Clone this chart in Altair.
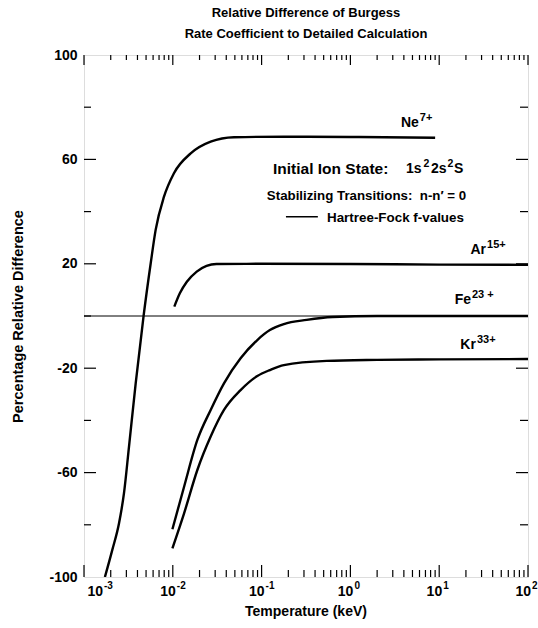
import altair as alt
import pandas as pd

# ---------------- data ----------------
ne_T = [1.72e-3, 2.08e-3, 2.48e-3, 2.82e-3, 3.21e-3, 3.82e-3, 4.7e-3, 5.64e-3, 6.41e-3,
        7.96e-3, 1.03e-2, 1.59e-2, 2.67e-2, 4.89e-2, 1.78e-1, 1.0, 9.0]
ne_v = [-100, -89.7, -79.4, -67.9, -50.1, -25.8, 0.3, 20.2, 33.0,
        45.7, 54.7, 62.3, 66.8, 68.5, 68.7, 68.6, 68.3]

ar_T = [1.04e-2, 1.2e-2, 1.44e-2, 1.86e-2, 2.4e-2, 3.1e-2, 1e-1, 1.0, 10.0, 100.0]
ar_v = [3.6, 8.7, 13.1, 17.0, 19.2, 19.9, 20.0, 19.9, 19.7, 19.6]

fe_T = [9.9e-3, 1.34e-2, 1.89e-2, 2.67e-2, 3.77e-2, 5.8e-2, 8.95e-2, 1.24e-1, 1.78e-1,
        3.22e-1, 6.3e-1, 2.0, 10.0, 100.0]
fe_v = [-81.7, -65.4, -47.5, -36.0, -25.8, -16.2, -9.2, -5.4, -3.1,
        -1.5, -0.4, 0.0, 0.0, 0.0]

kr_T = [9.9e-3, 1.34e-2, 1.89e-2, 2.67e-2, 3.77e-2, 5.8e-2, 8.95e-2, 1.24e-1, 1.78e-1,
        5.4e-1, 2.0, 10.0, 100.0]
kr_v = [-89.0, -75.6, -59.0, -46.2, -36.0, -28.4, -23.0, -20.7, -18.8,
        -17.2, -16.8, -16.6, -16.5]

ion_names = ["Ne", "Ar", "Fe", "Kr"]
ion_charges = ["7+", "15+", "23 +", "33+"]
label_T = [5.9, 33.7, 22.8, 25.9]
label_v = [73.9, 25.3, 6.1, -11.1]

x_exponents = [-3, -2, -1, 0, 1, 2]
x_major = [10.0 ** e for e in x_exponents]
x_minor = [m * 10.0 ** e for e in range(-3, 2) for m in range(2, 10)]
y_labels = [100, 60, 20, -20, -60, -100]
y_major = [60, 20, -20, -60]
y_minor = [80, 40, 0, -40, -80]

NB = "\u00a0"
title_lines = ["Relative Difference of Burgess", "Rate Coefficient to Detailed Calculation"]
state_parts = ["Initial" + NB + "Ion" + NB + "State:", "1s", "2", "2s", "2", "S"]
transition_text = "Stabilizing Transitions:" + NB + NB + "n-n\u2032 = 0"
legend_text = "Hartree-Fock f-values"

# ---------------- build ----------------
W, H = 444, 522
FONT = "Liberation Sans"
xs = alt.Scale(type="log", domain=[1e-3, 1e2])
ys = alt.Scale(domain=[-100, 100])

curves = pd.concat([
    pd.DataFrame({"T": ne_T, "v": ne_v, "ion": "Ne"}),
    pd.DataFrame({"T": ar_T, "v": ar_v, "ion": "Ar"}),
    pd.DataFrame({"T": fe_T, "v": fe_v, "ion": "Fe"}),
    pd.DataFrame({"T": kr_T, "v": kr_v, "ion": "Kr"}),
])

lines = alt.Chart(curves).mark_line(color="black", strokeWidth=2.4, interpolate="monotone", clip=True).encode(
    x=alt.X("T:Q", scale=xs, axis=None),
    y=alt.Y("v:Q", scale=ys, axis=alt.Axis(
        values=y_labels, ticks=False, domain=False, grid=False,
        labelExpr="toString(datum.value)", labelFont=FONT, labelFontSize=14,
        labelFontWeight="bold", labelColor="black", labelPadding=7,
        title="Percentage Relative Difference", titleFont=FONT, titleFontSize=14.5,
        titleFontWeight="bold", titleColor="black", titleAngle=270,
        titleX=-66, titleY=H / 2, titleAlign="center", titleBaseline="middle")),
    detail="ion:N",
)

zero = alt.Chart(pd.DataFrame({"v": [0]})).mark_rule(color="black", strokeWidth=1).encode(
    y=alt.Y("v:Q", scale=ys), x=alt.value(0), x2=alt.value(W))

def xticks(vals, y0, y1):
    return alt.Chart(pd.DataFrame({"t": vals})).mark_rule(color="black", strokeWidth=1.2).encode(
        x=alt.X("t:Q", scale=xs), y=alt.value(y0), y2=alt.value(y1))

def yticks(vals, x0, x1):
    return alt.Chart(pd.DataFrame({"t": vals})).mark_rule(color="black", strokeWidth=1.2).encode(
        y=alt.Y("t:Q", scale=ys), x=alt.value(x0), x2=alt.value(x1))

ticks = [
    xticks(x_major, H, H - 12), xticks(x_minor, H, H - 7),
    xticks(x_major, 0, 10), xticks(x_minor, 0, 5),
    yticks(y_major, 0, 12), yticks(y_minor, 0, 7),
    yticks(y_major, W, W - 12), yticks(y_minor, W, W - 8),
]

xl = pd.DataFrame({"t": x_major, "e": [str(e) for e in x_exponents]})
xl["first"] = xl["t"] == x_major[0]

def xlab(filt, dx_base):
    base = alt.Chart(xl).transform_filter(filt).mark_text(
        text="10", align="right", baseline="middle", dx=dx_base, font=FONT, fontSize=14,
        fontWeight="bold", color="black").encode(x=alt.X("t:Q", scale=xs), y=alt.value(H + 15))
    sup = alt.Chart(xl).transform_filter(filt).mark_text(
        align="left", baseline="middle", dx=dx_base + 1, font=FONT, fontSize=10,
        fontWeight="bold", color="black").encode(x=alt.X("t:Q", scale=xs), y=alt.value(H + 9), text="e:N")
    return [base, sup]

xlabels = xlab("!datum.first", 3) + xlab("datum.first", 19)

xtitle = alt.Chart(pd.DataFrame({"s": ["Temperature (keV)"]})).mark_text(
    align="center", baseline="middle", font=FONT, fontSize=14, fontWeight="bold", color="black").encode(
    x=alt.value(W / 2), y=alt.value(H + 35), text="s:N")

ions = pd.DataFrame({"name": ion_names, "q": ion_charges, "T": label_T, "v": label_v})
ion_base = alt.Chart(ions).mark_text(align="right", baseline="middle", font=FONT, fontSize=14,
                                     fontWeight="bold", color="black").encode(
    x=alt.X("T:Q", scale=xs), y=alt.Y("v:Q", scale=ys), text="name:N")
ion_sup = alt.Chart(ions).mark_text(align="left", baseline="middle", dx=1, dy=-5, font=FONT, fontSize=11,
                                    fontWeight="bold", color="black").encode(
    x=alt.X("T:Q", scale=xs), y=alt.Y("v:Q", scale=ys), text="q:N")

# "Initial Ion State: 1s^2 2s^2 S" assembled from pieces (normal / superscript)
def piece(s, px, py, size):
    return alt.Chart(pd.DataFrame({"s": [s]})).mark_text(
        align="left", baseline="middle", font=FONT, fontSize=size, fontWeight="bold", color="black").encode(
        x=alt.value(px), y=alt.value(py), text="s:N")

state = [
    piece(state_parts[0], 189, 114, 15.5),
    piece(state_parts[1], 322, 114, 14),
    piece(state_parts[2], 339.5, 109, 10.5),
    piece(state_parts[3], 347, 114, 14),
    piece(state_parts[4], 363.5, 109, 10.5),
    piece(state_parts[5], 370, 114, 14),
]

trans = alt.Chart(pd.DataFrame({"s": [transition_text]})).mark_text(
    align="center", baseline="middle", font=FONT, fontSize=13.3, fontWeight="bold", color="black").encode(
    x=alt.value(282.5), y=alt.value(141), text="s:N")

leg_line = alt.Chart(pd.DataFrame({"a": [0.188], "b": [0.43], "v": [38.0]})).mark_rule(
    color="black", strokeWidth=1.5).encode(x=alt.X("a:Q", scale=xs), x2="b:Q", y=alt.Y("v:Q", scale=ys))
leg_text = alt.Chart(pd.DataFrame({"s": [legend_text]})).mark_text(
    align="left", baseline="middle", font=FONT, fontSize=13.4, fontWeight="bold", color="black").encode(
    x=alt.value(243), y=alt.value(163), text="s:N")

chart = alt.layer(
    lines, zero, *ticks, *xlabels, xtitle,
    ion_base, ion_sup, *state, trans, leg_line, leg_text,
).properties(
    width=W, height=H,
    title=alt.TitleParams(title_lines, font=FONT, fontSize=13, fontWeight="bold", color="black",
                          anchor="middle", offset=7, lineHeight=21),
    autosize=alt.AutoSizeParams(type="none"),
    padding={"left": 84, "top": 55, "right": 10, "bottom": 51},
).configure_view(stroke="black", strokeWidth=1.5).configure(background="white")

chart.save("out.html", embed_options={"renderer": "svg", "actions": False})
